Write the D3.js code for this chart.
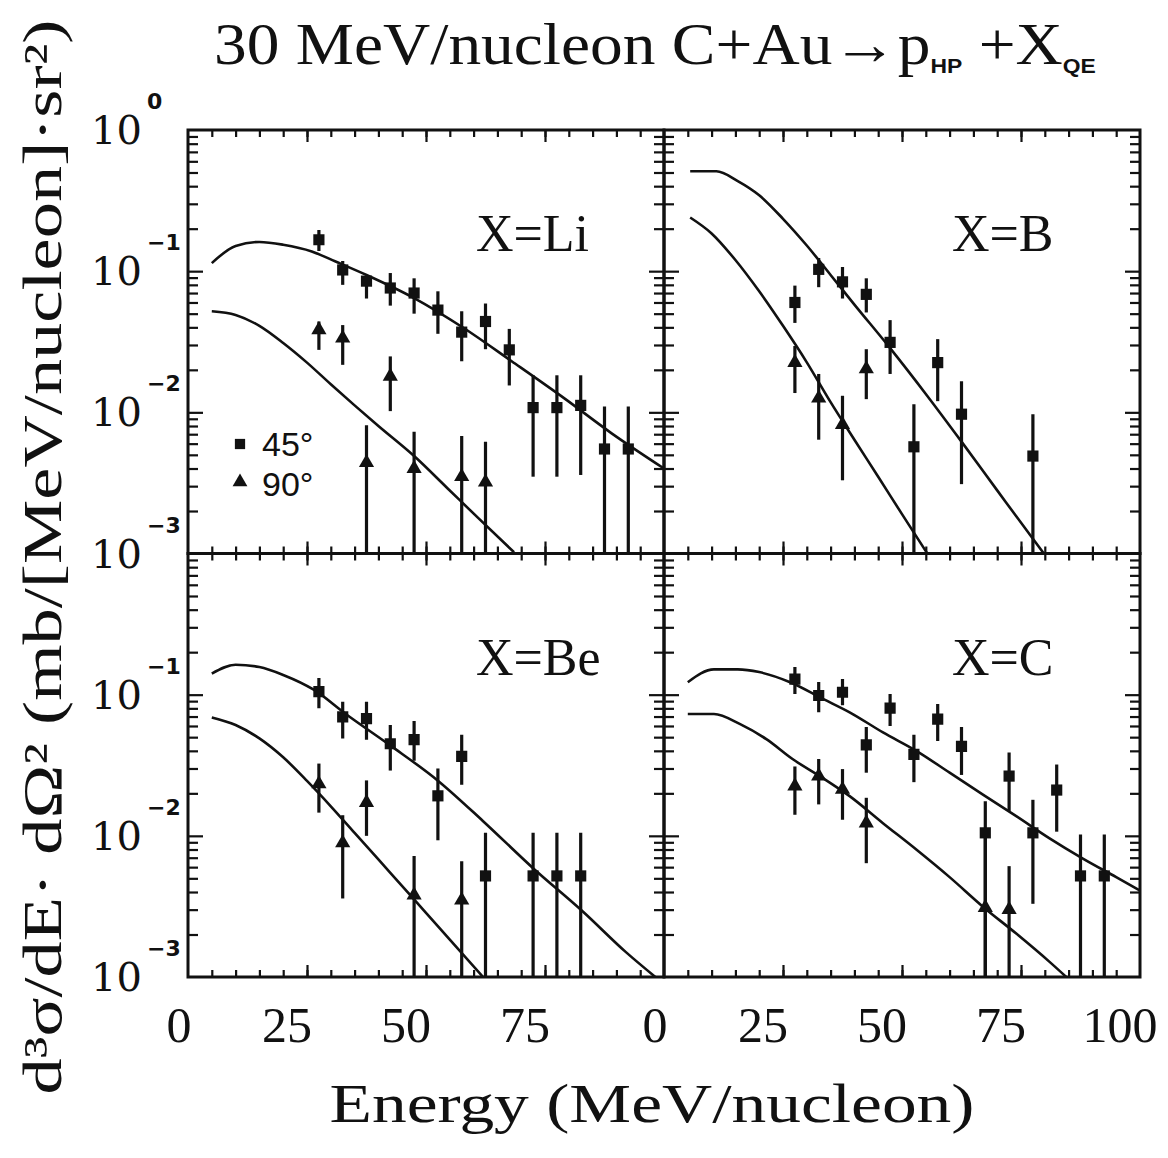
<!DOCTYPE html>
<html><head><meta charset="utf-8">
<script src="https://cdn.jsdelivr.net/npm/d3@7"></script>
<style>body{margin:0;background:#fff} svg{display:block}</style>
</head><body>
<svg id="chart" width="1168" height="1158"></svg>
<script>
// ---------------- DATA ----------------
const panelLabels = ["X=Li", "X=B", "X=Be", "X=C"];
const legendLabels = ["45°", "90°"];
const xTickLeft = [0, 25, 50, 75];
const xTickRight = [0, 25, 50, 75, 100];
const yTickTop = [1, 0.1, 0.01, 0.001];
const yTickBottom = [0.1, 0.01, 0.001];

// X = Li
const liSqE = [27.5,32.5,37.5,42.5,47.5,52.5,57.5,62.5,67.5,72.5,77.5,82.5,87.5,92.5];
const liSqV = [0.167,0.102,0.085,0.076,0.070,0.053,0.037,0.044,0.0277,0.0108,0.0108,0.0112,0.0055,0.0055];
const liSqHi = [0.196,0.118,0.092,0.097,0.089,0.072,0.052,0.059,0.039,0.0183,0.0183,0.0183,0.011,0.011];
const liSqLo = [0.139,0.080,0.064,0.057,0.050,0.036,0.023,0.028,0.0155,0.0035,0.0035,0.0036,0.0001,0.0001];
const liTrE = [27.5,32.5,37.5,42.5,47.5,57.5,62.5];
const liTrV = [0.0384,0.0335,0.0044,0.018,0.0040,0.0035,0.0032];
const liTrHi = [0.044,0.0415,0.0081,0.0249,0.0073,0.0068,0.0062];
const liTrLo = [0.0277,0.0217,0.0001,0.0102,0.0001,0.0001,0.0001];
const liC45E = [5,10,15,20,26,31,37.5,47.5,58,68,79,89,100];
const liC45V = [0.114,0.151,0.161,0.154,0.138,0.117,0.094,0.0645,0.0394,0.023,0.0126,0.0071,0.0040];
const liC90E = [5,10,15,20,25,30,35,40,47.5,54.5,61,68.5];
const liC90V = [0.052,0.049,0.041,0.031,0.0225,0.0158,0.0112,0.0080,0.0049,0.0029,0.00178,0.00102];

// X = B
const bSqE = [27.5,32.5,37.5,42.5,47.5,52.5,57.5,62.5,77.5];
const bSqV = [0.060,0.103,0.084,0.0685,0.0313,0.0057,0.0225,0.0097,0.0049];
const bSqHi = [0.079,0.124,0.107,0.089,0.045,0.0114,0.033,0.0166,0.0097];
const bSqLo = [0.043,0.077,0.064,0.051,0.0187,0.0001,0.012,0.0031,0.0001];
const bTrE = [27.5,32.5,37.5,42.5];
const bTrV = [0.0225,0.0126,0.0082,0.0203];
const bTrHi = [0.0295,0.0187,0.0131,0.028];
const bTrLo = [0.0137,0.0064,0.0033,0.0124];
const bC45E = [5.5,11,15.5,20,25,30,35,40,47.5,55,62.5,70,77.5,80];
const bC45V = [0.51,0.51,0.435,0.345,0.235,0.152,0.094,0.058,0.0285,0.0135,0.0062,0.0028,0.00127,0.00098];
const bC90E = [5.5,10,15,20,25,30,35,40,45,50,55,57];
const bC90V = [0.24,0.185,0.12,0.072,0.041,0.0226,0.0118,0.0064,0.0035,0.0019,0.00104,0.00082];

// X = Be
const beSqE = [27.5,32.5,37.5,42.5,47.5,52.5,57.5,62.5,72.5,77.5,82.5];
const beSqV = [0.105,0.0697,0.0677,0.0449,0.048,0.0192,0.0365,0.0052,0.0052,0.0052,0.0052];
const beSqHi = [0.131,0.089,0.089,0.061,0.065,0.030,0.052,0.0105,0.0105,0.0105,0.0105];
const beSqLo = [0.080,0.049,0.048,0.029,0.034,0.0093,0.023,0.0001,0.0001,0.0001,0.0001];
const beTrE = [27.5,32.5,37.5,47.5,57.5];
const beTrV = [0.0233,0.0089,0.0172,0.0038,0.0035];
const beTrHi = [0.0325,0.014,0.0247,0.0072,0.0066];
const beTrLo = [0.0146,0.0036,0.010,0.0001,0.0001];
const beC45E = [5,10,15,20,26.5,33,42.5,52.5,62,72.5,83,92,98.5];
const beC45V = [0.141,0.163,0.157,0.138,0.108,0.0736,0.0437,0.0246,0.0127,0.0059,0.0029,0.0015,0.00098];
const beC90E = [5,10,15,20,25,30,35,40,45,50,55,62];
const beC90V = [0.069,0.061,0.049,0.036,0.0245,0.0162,0.0105,0.0068,0.0044,0.00285,0.00184,0.0010];

// X = C
const cSqE = [27.5,32.5,37.5,42.5,47.5,52.5,57.5,62.5,67.5,72.5,77.5,82.5,87.5,92.5];
const cSqV = [0.129,0.0986,0.104,0.0441,0.0804,0.0378,0.0671,0.043,0.0105,0.0265,0.0105,0.0211,0.0052,0.0052];
const cSqHi = [0.157,0.123,0.129,0.059,0.101,0.052,0.086,0.059,0.0176,0.039,0.018,0.032,0.0102,0.0102];
const cSqLo = [0.101,0.075,0.084,0.028,0.060,0.024,0.047,0.027,0.0001,0.015,0.0033,0.0107,0.0001,0.0001];
const cTrE = [27.5,32.5,37.5,42.5,67.5,72.5];
const cTrV = [0.0225,0.0265,0.0213,0.0123,0.0031,0.0030];
const cTrHi = [0.031,0.035,0.0297,0.0186,0.0105,0.0061];
const cTrLo = [0.0141,0.0167,0.013,0.0064,0.0001,0.0001];
const cC45E = [5,10.5,15.5,20,26.5,33.5,39,46,53,60,67,74,81,88,95,100];
const cC45V = [0.1225,0.151,0.151,0.1445,0.1225,0.093,0.075,0.054,0.040,0.028,0.0196,0.0138,0.0096,0.0069,0.0051,0.0041];
const cC90E = [5,10.5,16,21.5,27,33.5,39,46,53,60,67,74,81,86];
const cC90V = [0.073,0.073,0.0618,0.0484,0.035,0.0255,0.0191,0.0123,0.008,0.0051,0.00315,0.00203,0.00128,0.0009];

// ---------------- LAYOUT ----------------
const svg = d3.select("#chart");
svg.append("rect").attr("width",1168).attr("height",1158).attr("fill","#fff");
const colX = [188, 664], rowY = [130, 553.5];
const PW = 476, PH = 423.5;
const INK = "#111";

const zip = (E,V,H,L) => E.map((e,i)=>({e, v:V[i], hi:H?H[i]:null, lo:L?L[i]:null}));
const panels = [
  {label:panelLabels[0], col:0,row:0, sq:zip(liSqE,liSqV,liSqHi,liSqLo), tr:zip(liTrE,liTrV,liTrHi,liTrLo), c45:zip(liC45E,liC45V), c90:zip(liC90E,liC90V)},
  {label:panelLabels[1], col:1,row:0, sq:zip(bSqE,bSqV,bSqHi,bSqLo), tr:zip(bTrE,bTrV,bTrHi,bTrLo), c45:zip(bC45E,bC45V), c90:zip(bC90E,bC90V)},
  {label:panelLabels[2], col:0,row:1, sq:zip(beSqE,beSqV,beSqHi,beSqLo), tr:zip(beTrE,beTrV,beTrHi,beTrLo), c45:zip(beC45E,beC45V), c90:zip(beC90E,beC90V)},
  {label:panelLabels[3], col:1,row:1, sq:zip(cSqE,cSqV,cSqHi,cSqLo), tr:zip(cTrE,cTrV,cTrHi,cTrLo), c45:zip(cC45E,cC45V), c90:zip(cC90E,cC90V)}
];

const xMinor = d3.range(5, 100, 5), xMajor = [25, 50, 75];
const yMinor = [], yMajor = [0.01, 0.1];
[-3,-2,-1].forEach(d => { for (let m=2;m<=9;m++) yMinor.push(m*Math.pow(10,d)); });

const sqSym = d3.symbol(d3.symbolSquare, 125);
const trSym = d3.symbol(d3.symbolTriangle, 100);

const defs = svg.append("defs");

panels.forEach((p, i) => {
  const x0 = colX[p.col], y0 = rowY[p.row];
  const x = d3.scaleLinear().domain([0,100]).range([x0, x0+PW]);
  const y = d3.scaleLog().domain([1e-3, 1]).range([y0+PH, y0]);
  const g = svg.append("g");
  defs.append("clipPath").attr("id","clip"+i).append("rect")
    .attr("x",x0).attr("y",y0).attr("width",PW).attr("height",PH);

  // ticks (inward on all four sides)
  const tickStyle = s => { s.select(".domain").remove(); s.selectAll("text").remove();
    s.selectAll("line").attr("stroke",INK).attr("stroke-width",2.2); };
  const addAxis = (axis, tx, ty) => g.append("g").attr("transform",`translate(${tx},${ty})`).call(axis).call(tickStyle);
  addAxis(d3.axisBottom(x).tickValues(xMinor).tickSize(-7), 0, y0+PH);
  addAxis(d3.axisBottom(x).tickValues(xMajor).tickSize(-12), 0, y0+PH);
  addAxis(d3.axisTop(x).tickValues(xMinor).tickSize(-7), 0, y0);
  addAxis(d3.axisTop(x).tickValues(xMajor).tickSize(-12), 0, y0);
  addAxis(d3.axisLeft(y).tickValues(yMinor).tickSize(-10), x0, 0);
  addAxis(d3.axisLeft(y).tickValues(yMajor).tickSize(-15), x0, 0);
  addAxis(d3.axisRight(y).tickValues(yMinor).tickSize(-10), x0+PW, 0);
  addAxis(d3.axisRight(y).tickValues(yMajor).tickSize(-15), x0+PW, 0);

  const c = g.append("g").attr("clip-path",`url(#clip${i})`);
  const line = d3.line().x(d=>x(d.e)).y(d=>y(d.v)).curve(d3.curveMonotoneX);
  [p.c45, p.c90].forEach(cv => c.append("path").attr("d", line(cv))
     .attr("fill","none").attr("stroke",INK).attr("stroke-width",2.6).attr("stroke-linejoin","round"));

  // error bars
  [...p.sq, ...p.tr].forEach(d => c.append("line")
     .attr("x1",x(d.e)).attr("x2",x(d.e))
     .attr("y1",y(Math.max(d.lo,1e-4))).attr("y2",y(d.hi))
     .attr("stroke",INK).attr("stroke-width",3.2));
  // markers
  c.selectAll(".sq").data(p.sq).join("path").attr("d",sqSym())
    .attr("transform",d=>`translate(${x(d.e)},${y(d.v)})`).attr("fill",INK);
  c.selectAll(".tr").data(p.tr).join("path").attr("d",trSym())
    .attr("transform",d=>`translate(${x(d.e)},${y(d.v)})`).attr("fill",INK);

  // panel label
  g.append("text").attr("x", x(60.5)).attr("y", y0+121)
    .attr("font-family","Liberation Serif").attr("font-size",52).attr("fill",INK)
    .text(p.label);

  // y tick labels
  if (p.col === 0) {
    const vals = p.row === 0 ? yTickTop : yTickBottom;
    vals.forEach(v => {
      const ex = Math.round(Math.log10(v));
      g.append("text").attr("x",142).attr("y",y(v)+14).attr("text-anchor","end")
        .attr("font-family","DejaVu Serif").attr("font-size",40).attr("fill",INK).text("10");
      g.append("text").attr("x",147).attr("y",y(v)-21)
        .attr("font-family","DejaVu Sans").attr("font-weight","bold").attr("font-size",22).attr("fill",INK)
        .text(ex === 0 ? "0" : "\u2212" + Math.abs(ex));
    });
  }
  // x tick labels (printed slightly left of their ticks, as in the original)
  if (p.row === 1) {
    const vals = p.col === 0 ? xTickLeft : xTickRight;
    vals.forEach(v => g.append("text").attr("x", x(v) + (v === 0 ? -9 : -20)).attr("y", 1042)
      .attr("text-anchor","middle").attr("font-family","Liberation Serif").attr("font-size",50)
      .attr("fill",INK).text(v));
  }
  // border
  g.append("rect").attr("x",x0).attr("y",y0).attr("width",PW).attr("height",PH)
    .attr("fill","none").attr("stroke",INK).attr("stroke-width",3);
});

// legend (top-left panel)
const lg = svg.append("g");
lg.append("path").attr("d", d3.symbol(d3.symbolSquare, 105)()).attr("transform","translate(240,444)").attr("fill",INK);
lg.append("path").attr("d", d3.symbol(d3.symbolTriangle, 95)()).attr("transform","translate(240,482)").attr("fill",INK);
lg.append("text").attr("x",262).attr("y",456).attr("font-family","Liberation Sans").attr("font-size",34).attr("fill",INK).text(legendLabels[0]);
lg.append("text").attr("x",262).attr("y",496).attr("font-family","Liberation Sans").attr("font-size",34).attr("fill",INK).text(legendLabels[1]);

// title
const fitX = (sel, tx, ty, width) => {
  const w = sel.node().getBBox().width;
  sel.attr("transform", `translate(${tx},${ty}) scale(${width/w},1)`);
};
const title = svg.append("text").attr("x",0).attr("y",0)
  .attr("font-family","Liberation Serif").attr("font-size",60).attr("fill",INK);
title.append("tspan").text("30 MeV/nucleon C+Au\u2192p");
title.append("tspan").attr("font-family","Liberation Sans").attr("font-weight","bold").attr("font-size",21).attr("dy",9).text("HP");
title.append("tspan").attr("dy",-9).text(" +X");
title.append("tspan").attr("font-family","Liberation Sans").attr("font-weight","bold").attr("font-size",21).attr("dy",9).text("QE");
fitX(title, 214, 64, 882);

// x axis title
svg.append("text").attr("x",652).attr("y",1122).attr("text-anchor","middle")
  .attr("font-family","Liberation Serif").attr("font-size",54).attr("fill",INK)
  .attr("textLength",645).attr("lengthAdjust","spacingAndGlyphs")
  .text("Energy (MeV/nucleon)");

// y axis title
svg.append("text").attr("transform","translate(61,557) rotate(-90)").attr("text-anchor","middle")
  .attr("font-family","Liberation Serif").attr("font-size",54).attr("fill",INK)
  .attr("textLength",1075).attr("lengthAdjust","spacingAndGlyphs")
  .text("d\u00b3\u03c3/dE\u00b7 d\u03a9\u00b2  (mb/[MeV/nucleon]\u00b7sr\u00b2)");
</script>
</body></html>
